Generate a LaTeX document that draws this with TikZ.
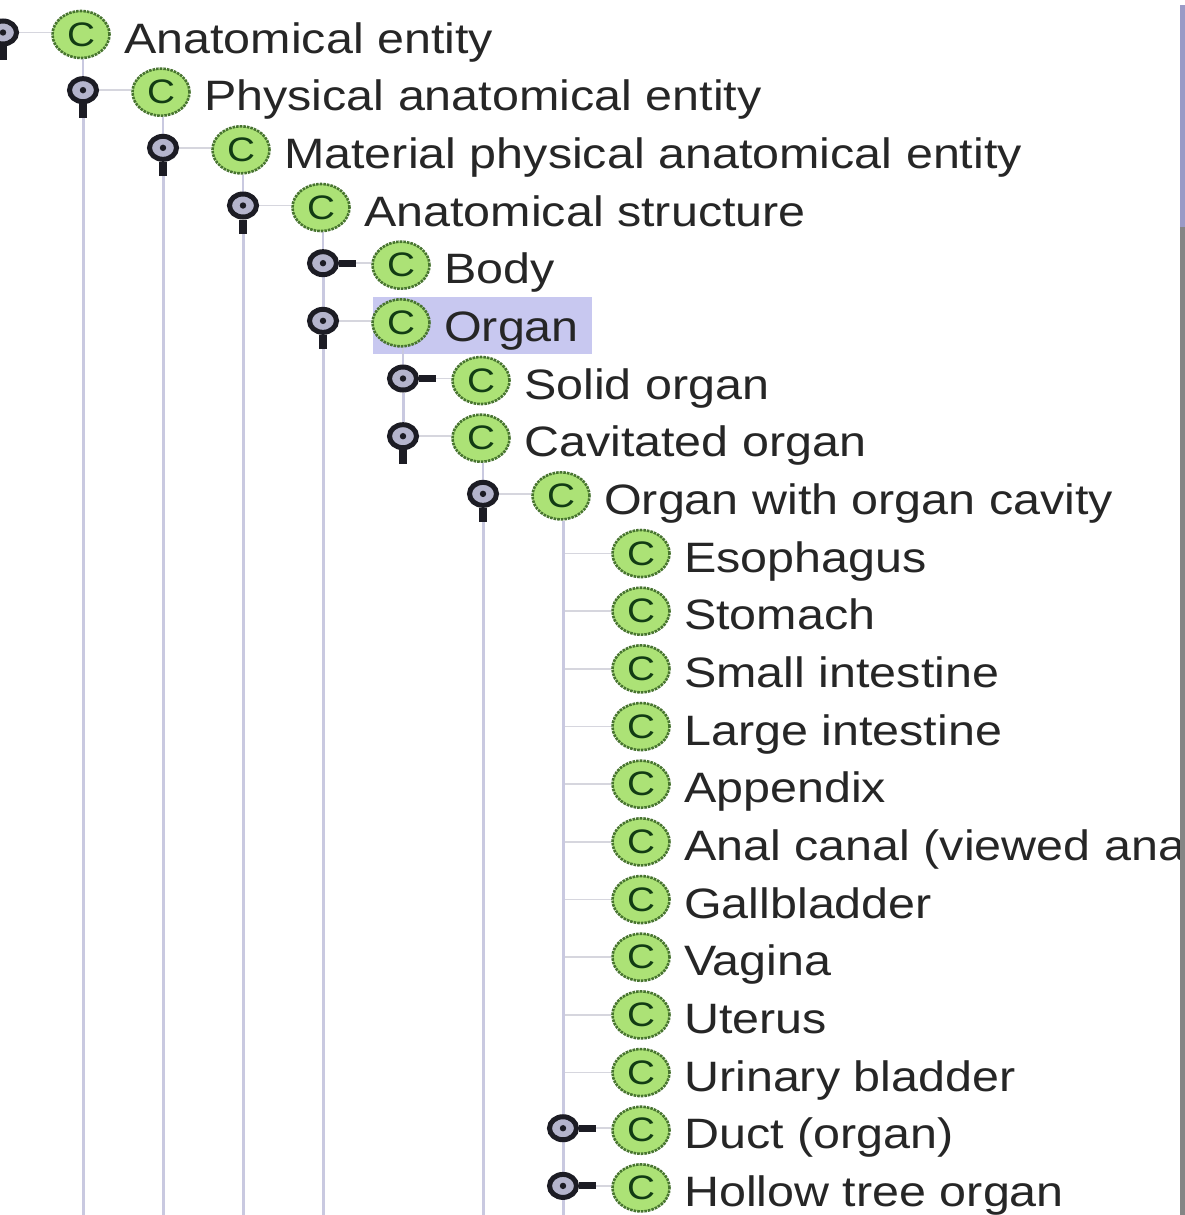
\documentclass[tikz,border=0pt]{standalone}
\usepackage{fontspec}
\setmainfont[FakeStretch=1.14]{Liberation Sans}
\usetikzlibrary{shapes.geometric,calc}
\pgfdeclarelayer{bg}
\pgfsetlayers{bg,main}
\definecolor{leafgreen}{HTML}{ACE276}
\definecolor{ringgreen}{HTML}{47742F}
\definecolor{cgreen}{HTML}{123C14}
\definecolor{treeline}{HTML}{C9C9E0}
\definecolor{stubline}{HTML}{D6D6DE}
\definecolor{selectbg}{HTML}{C8C8F0}
\definecolor{handlefill}{HTML}{B4B4CC}
\definecolor{handlering}{HTML}{1C1C24}
\definecolor{txt}{HTML}{262626}
\definecolor{borderblue}{HTML}{9A9AC6}
\definecolor{bordergrey}{HTML}{858585}
\tikzset{
 x=1pt,y=-1pt,
 classicon/.style={ellipse,draw=ringgreen,densely dotted,line width=2.6pt,fill=leafgreen,minimum width=57pt,minimum height=47pt,inner sep=0pt,text=cgreen,font=\fontsize{34}{34}\selectfont},
 handlenode/.style={ellipse,draw=handlering,line width=5pt,fill=handlefill,minimum width=27pt,minimum height=23pt,inner sep=0pt},
 labeltext/.style={anchor=base west,inner sep=0pt,text=txt,font=\fontsize{42.5}{42.5}\selectfont},
 tree/.style={draw=treeline,line width=3pt},
 stub/.style={draw=stubline,line width=1.6pt},
 stem/.style={draw=handlering,line width=8pt},
}
\begin{document}
\begin{tikzpicture}
\useasboundingbox (0,0) rectangle (1185,1215);
\begin{pgfonlayer}{bg}
\fill[white] (0,0) rectangle (1185,1215);
\node[fill=selectbg,inner sep=0pt,minimum width=219pt,minimum height=57pt,anchor=north west] (sel) at (373,297) {};
\end{pgfonlayer}
\coordinate (bot) at (0,1215);
\begin{scope}
\clip (0,0) rectangle (1180,1215);
\foreach \r/\l/\h/\t in {
 0/0/e/Anatomical entity,
 1/1/e/Physical anatomical entity,
 2/2/e/Material physical anatomical entity,
 3/3/e/Anatomical structure,
 4/4/c/Body,
 5/4/e/Organ,
 6/5/c/Solid organ,
 7/5/e/Cavitated organ,
 8/6/e/Organ with organ cavity,
 9/7/n/Esophagus,
 10/7/n/Stomach,
 11/7/n/Small intestine,
 12/7/n/Large intestine,
 13/7/n/Appendix,
 14/7/n/Anal canal (viewed ana,
 15/7/n/Gallbladder,
 16/7/n/Vagina,
 17/7/n/Uterus,
 18/7/n/Urinary bladder,
 19/7/c/Duct (organ),
 20/7/c/Hollow tree organ}{
  \pgfmathsetmacro{\yy}{34.5+57.67*\r}
  \pgfmathsetmacro{\cx}{81+80*\l}
  \pgfmathsetmacro{\hx}{3+80*\l}
  \pgfmathsetmacro{\tx}{124+80*\l}
  \pgfmathsetmacro{\ty}{\yy+18.5}
  \node[classicon] (c\r) at (\cx,\yy) {C};
  \node[labeltext] (t\r) at (\tx,\ty) {\t};
  \if\h n
    \coordinate (h\r) at (\hx,\yy);
  \else
    \node[handlenode] (h\r) at (\hx,\yy-2) {};
    \fill[handlering] (h\r.center) circle[radius=3.2pt];
  \fi
  \if\h e
    \begin{pgfonlayer}{bg}
      \draw[stub] (h\r.east) -- (c\r.west |- h\r.east);
    \end{pgfonlayer}
    \draw[stem] (h\r.south) -- ++(0,14);
  \fi
  \if\h c
    \begin{pgfonlayer}{bg}
      \draw[stub] (h\r.east) -- (c\r.west |- h\r.east);
    \end{pgfonlayer}
    \draw[stem,line width=7pt] (h\r.east) -- ++(17,0);
  \fi
  \if\h n
    \begin{pgfonlayer}{bg}
      \draw[stub] (h\r) -- (c\r.west);
    \end{pgfonlayer}
  \fi
}
\begin{pgfonlayer}{bg}
  % short links from a parent icon to its first child's handle
  \foreach \p/\q in {0/1,1/2,2/3,3/4,5/6,7/8}{
    \draw[tree,line width=2pt] (h\q.north |- c\p.south) -- (h\q.north);
  }
  % runs between sibling handles
  \draw[tree] (h4.south) -- (h5.north);
  \draw[tree] (h6.south) -- (h7.north);
  % long runs to the bottom edge
  \foreach \q in {1,2,3,5,8}{
    \draw[tree] (h\q.south) -- (h\q.south |- bot);
  }
  \draw[tree] (h9 |- c8.south) -- (h9 |- bot);
\end{pgfonlayer}
\end{scope}
\node[fill=borderblue,inner sep=0pt,minimum width=5pt,minimum height=222pt,anchor=north west] (edgeblue) at (1180,5) {};
\node[fill=bordergrey,inner sep=0pt,minimum width=5pt,minimum height=988pt,anchor=north west] (edgegrey) at (1180,227) {};
\end{tikzpicture}
\end{document}
